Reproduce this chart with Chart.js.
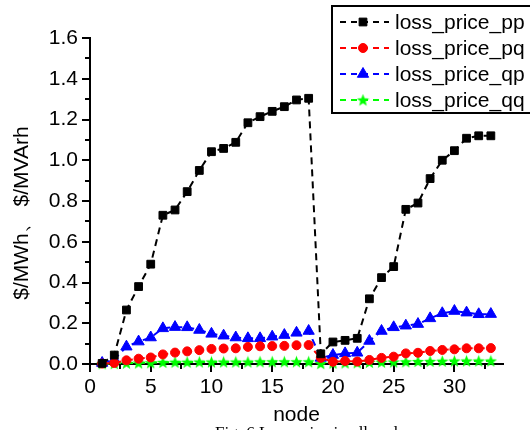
<!DOCTYPE html>
<html>
<head>
<meta charset="utf-8">
<script src="https://cdn.jsdelivr.net/npm/chart.js@4"></script>
<style>
  body { margin: 0; background: #fff; }
  canvas { display: block; }
</style>
</head>
<body>
<canvas id="lossChart" width="530" height="430"></canvas>
<script>
const FONT = '"Liberation Sans", Arial, sans-serif';

const nodes = [1, 2, 3, 4, 5, 6, 7, 8, 9, 10, 11, 12, 13, 14, 15, 16, 17,
  18, 19, 20, 21, 22, 23, 24, 25, 26, 27, 28, 29, 30, 31, 32, 33];

const lossPricePP = [0.003, 0.044, 0.265, 0.38, 0.49, 0.73, 0.756, 0.846, 0.95, 1.042, 1.058,
  1.088, 1.184, 1.214, 1.24, 1.263, 1.296, 1.304, 0.05, 0.108, 0.116, 0.126, 0.32,
  0.424, 0.478, 0.759, 0.79, 0.91, 1.0, 1.047, 1.108, 1.12, 1.12];
const lossPricePQ = [0.002, 0.005, 0.018, 0.026, 0.032, 0.047, 0.056, 0.062, 0.068, 0.074, 0.076,
  0.077, 0.084, 0.087, 0.088, 0.089, 0.092, 0.093, 0.03, 0.011, 0.015, 0.012, 0.02,
  0.03, 0.036, 0.052, 0.055, 0.064, 0.069, 0.072, 0.077, 0.077, 0.078];
const lossPriceQP = [0.005, 0.022, 0.085, 0.11, 0.13, 0.175, 0.181, 0.18, 0.167, 0.148, 0.139,
  0.13, 0.126, 0.126, 0.134, 0.142, 0.153, 0.162, 0.03, 0.044, 0.052, 0.055, 0.113,
  0.162, 0.18, 0.188, 0.196, 0.224, 0.249, 0.26, 0.252, 0.244, 0.245];
const lossPriceQQ = [0.001, 0.002, 0.004, 0.005, 0.006, 0.008, 0.009, 0.009, 0.01, 0.01, 0.01,
  0.01, 0.01, 0.011, 0.011, 0.011, 0.011, 0.011, 0.002, 0.004, 0.005, 0.006, 0.008,
  0.009, 0.01, 0.011, 0.012, 0.013, 0.014, 0.015, 0.015, 0.015, 0.015];

const seriesNames = ['loss_price_pp', 'loss_price_pq', 'loss_price_qp', 'loss_price_qq'];
const xTickValues = [0, 5, 10, 15, 20, 25, 30];
const yTickValues = [0, 0.2, 0.4, 0.6, 0.8, 1.0, 1.2, 1.4, 1.6];

// filled five point star for the qq series
function makeStar(size, color) {
  const c = document.createElement('canvas');
  c.width = size; c.height = size;
  const g = c.getContext('2d');
  const cx = size / 2, cy = size / 2 + 0.5, outer = size / 2, inner = outer * 0.42;
  g.beginPath();
  for (let i = 0; i < 10; i++) {
    const r = i % 2 === 0 ? outer : inner;
    const a = -Math.PI / 2 + i * Math.PI / 5;
    g.lineTo(cx + r * Math.cos(a), cy + r * Math.sin(a));
  }
  g.closePath();
  g.fillStyle = color;
  g.fill();
  return c;
}
const greenStar = makeStar(13, '#00ff00');

function toPoints(values) {
  return nodes.map((n, i) => ({x: n, y: values[i]}));
}

function makeDataset(label, values, color, pointStyle, radius) {
  return {
    label: label,
    data: toPoints(values),
    borderColor: color,
    backgroundColor: color,
    borderWidth: 2,
    borderDash: [7, 5],
    pointStyle: pointStyle,
    pointRadius: radius,
    pointBorderWidth: 1,
    pointBackgroundColor: color,
    pointBorderColor: color,
    tension: 0,
    fill: false,
    clip: false
  };
}

const datasets = [
  makeDataset(seriesNames[0], lossPricePP, '#000000', 'rect', 5.5),
  makeDataset(seriesNames[1], lossPricePQ, '#ff0000', 'circle', 4.5),
  makeDataset(seriesNames[2], lossPriceQP, '#0000ff', 'triangle', 6.5),
  makeDataset(seriesNames[3], lossPriceQQ, '#00ff00', greenStar, 6)
];

const decorations = {
  id: 'decorations',
  afterDraw(chart) {
    const ctx = chart.ctx;
    const x = chart.scales.x, y = chart.scales.y;
    const area = chart.chartArea;
    ctx.save();

    // minor ticks
    ctx.strokeStyle = '#000';
    ctx.lineWidth = 2;
    ctx.beginPath();
    for (let v = 0.1; v < 1.6; v += 0.2) {
      const py = Math.round(y.getPixelForValue(v));
      ctx.moveTo(area.left - 5, py);
      ctx.lineTo(area.left, py);
    }
    for (let v = 2.5; v < 34; v += 5) {
      const px = Math.round(x.getPixelForValue(v));
      ctx.moveTo(px, area.bottom);
      ctx.lineTo(px, area.bottom + 5);
    }
    ctx.stroke();

    // axis titles
    ctx.fillStyle = '#000';
    ctx.font = '21px ' + FONT;
    ctx.textAlign = 'center';
    ctx.textBaseline = 'middle';
    ctx.fillText('node', (area.left + area.right) / 2, 415);
    ctx.save();
    ctx.translate(22, 213);
    ctx.rotate(-Math.PI / 2);
    ctx.fillText('$/MWh\u3001 $/MVArh', 0, 0);
    ctx.restore();

    // caption, cut by the bottom edge
    ctx.font = '17px "Liberation Serif", "Times New Roman", serif';
    ctx.textAlign = 'right';
    ctx.textBaseline = 'top';
    ctx.fillText('Fig. 6 Loss price in all nodes', 412, 425);

    // legend
    const boxLeft = 332, boxTop = 6, boxBottom = 113;
    ctx.fillStyle = '#fff';
    ctx.fillRect(boxLeft, boxTop, 540 - boxLeft, boxBottom - boxTop);
    ctx.strokeStyle = '#000';
    ctx.lineWidth = 2;
    ctx.strokeRect(boxLeft, boxTop, 540 - boxLeft, boxBottom - boxTop);
    const rowY = [22, 48, 74, 100];
    datasets.forEach((ds, i) => {
      const ry = rowY[i];
      ctx.save();
      ctx.strokeStyle = ds.borderColor;
      ctx.lineWidth = 2;
      ctx.setLineDash([6, 5]);
      ctx.beginPath();
      ctx.moveTo(340, ry);
      ctx.lineTo(389, ry);
      ctx.stroke();
      ctx.restore();
      ctx.fillStyle = ds.pointBackgroundColor;
      ctx.strokeStyle = ds.pointBorderColor;
      ctx.lineWidth = 1;
      Chart.helpers.drawPoint(ctx, {
        pointStyle: ds.pointStyle,
        radius: ds.pointRadius,
        rotation: 0,
        borderWidth: 1
      }, 363, ry);
      ctx.fillStyle = '#000';
      ctx.font = '21px ' + FONT;
      ctx.textAlign = 'left';
      ctx.textBaseline = 'middle';
      ctx.fillText(ds.label, 395, ry + 1);
    });
    ctx.restore();
  }
};

new Chart(document.getElementById('lossChart'), {
  type: 'line',
  data: { datasets: datasets },
  options: {
    responsive: false,
    animation: false,
    devicePixelRatio: 1,
    layout: { padding: { left: 0, top: 38, right: 27, bottom: 0 } },
    plugins: {
      legend: { display: false },
      tooltip: { enabled: false }
    },
    scales: {
      x: {
        type: 'linear',
        min: 0,
        max: 34,
        afterFit: scale => { scale.height = 66; },
        afterBuildTicks: scale => { scale.ticks = xTickValues.map(v => ({value: v})); },
        border: { color: '#000', width: 2 },
        grid: { drawOnChartArea: false, drawTicks: true, tickLength: 8, color: '#000', lineWidth: 2 },
        ticks: {
          color: '#000',
          padding: 3,
          maxRotation: 0,
          font: { family: FONT, size: 21 },
          callback: v => String(v)
        }
      },
      y: {
        min: 0,
        max: 1.6,
        afterFit: scale => { scale.width = 90; },
        afterBuildTicks: scale => { scale.ticks = yTickValues.map(v => ({value: v})); },
        border: { color: '#000', width: 2 },
        grid: { drawOnChartArea: false, drawTicks: true, tickLength: 8, color: '#000', lineWidth: 2 },
        ticks: {
          color: '#000',
          padding: 4,
          font: { family: FONT, size: 21 },
          callback: v => Number(v).toFixed(1)
        }
      }
    }
  },
  plugins: [decorations]
});
</script>
</body>
</html>
